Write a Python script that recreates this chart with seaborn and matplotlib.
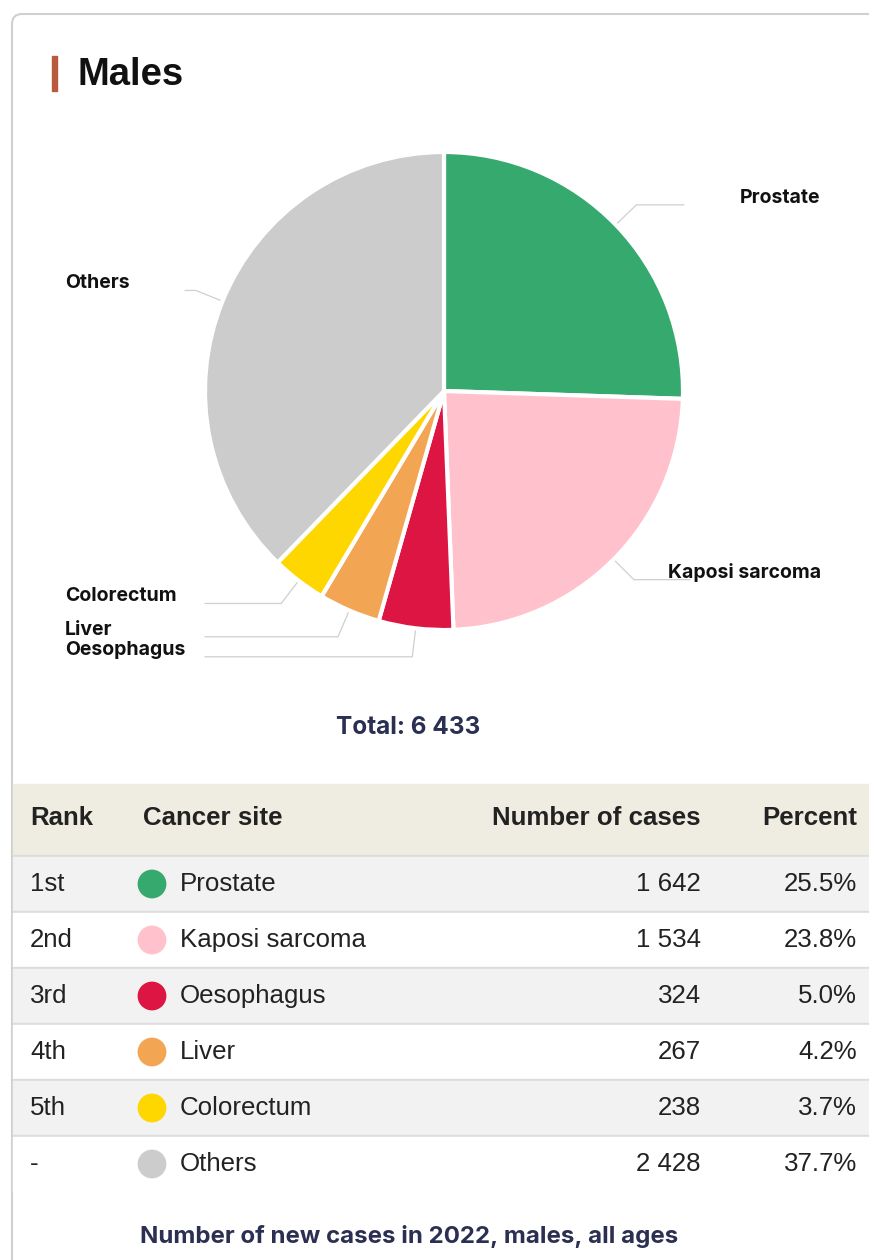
import numpy as np
import matplotlib
matplotlib.use("Agg")
import matplotlib.pyplot as plt
from matplotlib.patches import Rectangle, FancyBboxPatch
import pandas as pd
import seaborn as sns

# ===================== data =====================
sites = ["Prostate", "Kaposi sarcoma", "Oesophagus", "Liver", "Colorectum", "Others"]
cases = [1642, 1534, 324, 267, 238, 2428]
percents = [25.5, 23.8, 5.0, 4.2, 3.7, 37.7]
ranks = ["1st", "2nd", "3rd", "4th", "5th", "-"]
colors = ["#36a96e", "#ffc2cc", "#dc1543", "#f2a654", "#ffd700", "#cccccc"]
total = 6433
title = "Males"
footer = "Number of new cases in 2022, males, all ages"
headers = ["Rank", "Cancer site", "Number of cases", "Percent"]

sns.set_theme(style="white")
plt.rcParams["font.family"] = ["Liberation Sans", "DejaVu Sans"]

W, H = 869, 1260
fig = plt.figure(figsize=(W / 100, H / 100), dpi=100)
fig.patch.set_facecolor("white")

# pixel-space overlay
ax = fig.add_axes([0, 0, 1, 1])
ax.set_xlim(0, W)
ax.set_ylim(H, 0)
ax.axis("off")

# card border
ax.add_patch(FancyBboxPatch((12, 14), 1000, 1400, boxstyle="round,pad=0,rounding_size=10",
                            fc="white", ec="#d0d0d0", lw=1.5, zorder=0))

# title
ax.add_patch(Rectangle((52, 56), 5, 35, color="#b85a3e", zorder=2))
ax.text(78, 75, title, fontsize=27.5, fontweight="bold", color="#111111", va="center", ha="left")

# ===================== pie =====================
cx, cy, R = 444, 391, 239
half = 1.25 * R
ax_pie = fig.add_axes([(cx - half) / W, (H - cy - half) / H, 2 * half / W, 2 * half / H])
ax_pie.pie(cases, colors=colors, startangle=90, counterclock=False, radius=1,
           wedgeprops=dict(edgecolor="white", linewidth=3, joinstyle="round"))
ax_pie.set_xlim(-1.25, 1.25)
ax_pie.set_ylim(-1.25, 1.25)
ax_pie.axis("off")

# leader lines + labels
label_font = ["Inter", "DejaVu Sans"]
layout = {
    "Prostate": dict(line_end=684, text_x=740),
    "Kaposi sarcoma": dict(line_end=690, text_x=668),
    "Oesophagus": dict(line_end=205, text_x=65),
    "Liver": dict(line_end=205, text_x=65),
    "Colorectum": dict(line_end=205, text_x=65),
    "Others": dict(line_end=185, text_x=65),
}
cum = np.cumsum([0] + cases[:-1])
for site, start, val in zip(sites, cum, cases):
    theta = np.deg2rad(90 - 360 * (start + val / 2) / sum(cases))
    x0, y0 = cx + R * 1.0 * np.cos(theta), cy - R * 1.0 * np.sin(theta)
    x1, y1 = cx + R * 1.12 * np.cos(theta), cy - R * 1.12 * np.sin(theta)
    lay = layout[site]
    ax.plot([x0, x1, lay["line_end"]], [y0, y1, y1], color="#cfcfcf", lw=0.9, zorder=1)
    ax.text(lay["text_x"], y1 - 7, site, fontsize=14, fontweight="bold", family=label_font,
            color="#111111", ha="left", va="center", zorder=3)

ax.text(408, 727, "Total: " + f"{total:,}".replace(",", " "), fontsize=17.5, fontweight="bold",
        family=label_font, color="#2b3052", ha="center", va="center")

# ===================== table =====================
fs = 18.6
ax.add_patch(Rectangle((13, 784), W, 71, color="#efede1", zorder=1))
head_y = 818
ax.text(30, head_y, headers[0], fontsize=fs, fontweight="bold", color="#222222", va="center")
ax.text(143, head_y, headers[1], fontsize=fs, fontweight="bold", color="#222222", va="center")
ax.text(701, head_y, headers[2], fontsize=fs, fontweight="bold", color="#222222", va="center", ha="right")
ax.text(857, head_y, headers[3], fontsize=fs, fontweight="bold", color="#222222", va="center", ha="right")

row_top, row_h = 857, 56
for i in range(len(sites)):
    top = row_top + i * row_h
    ax.add_patch(Rectangle((13, top - 2), W, 2, color="#dcdcdc", zorder=1))
    ax.add_patch(Rectangle((13, top), W, row_h - 2, color="#f2f2f2" if i % 2 == 0 else "white", zorder=1))
    yc = top + 27
    ax.text(30, yc, ranks[i], fontsize=fs, color="#222222", va="center", zorder=3)
    ax.text(180, yc, sites[i], fontsize=fs, color="#222222", va="center", zorder=3)
    ax.text(701, yc, f"{cases[i]:,}".replace(",", " "), fontsize=fs, color="#222222",
            va="center", ha="right", zorder=3)
    ax.text(857, yc, f"{percents[i]:.1f}%", fontsize=fs, color="#222222",
            va="center", ha="right", zorder=3)

dots = pd.DataFrame({"x": [152] * len(sites),
                     "y": [row_top + i * row_h + 27 for i in range(len(sites))],
                     "site": sites})
sns.scatterplot(data=dots, x="x", y="y", hue="site", palette=dict(zip(sites, colors)),
                s=430, edgecolor="none", legend=False, ax=ax, zorder=4)
ax.set_xlim(0, W)
ax.set_ylim(H, 0)
ax.axis("off")

ax.text(140, 1237, footer, fontsize=17.3, fontweight="bold", family=label_font,
        color="#2b3052", va="center", ha="left")

fig.savefig("out.png", dpi=100)
